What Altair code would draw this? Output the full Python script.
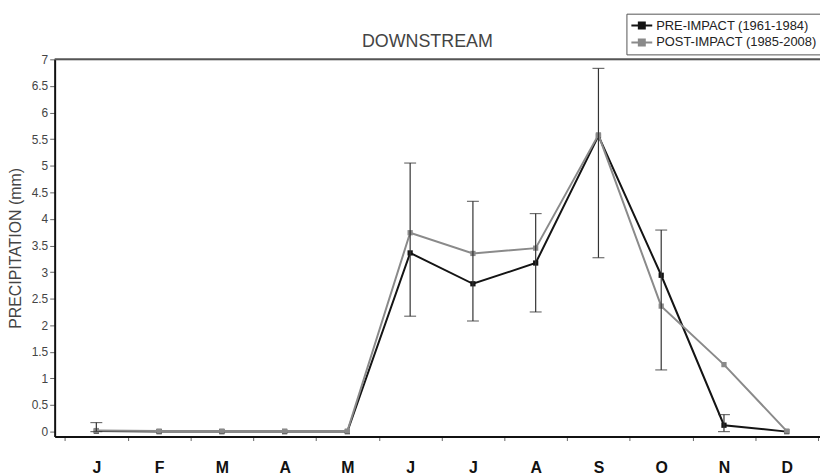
import altair as alt
import pandas as pd

months = ['J', 'F', 'M', 'A', 'M', 'J', 'J', 'A', 'S', 'O', 'N', 'D']
month_idx = list(range(1, 13))
series_names = ['PRE-IMPACT (1961-1984)', 'POST-IMPACT (1985-2008)']
pre = [0.01, 0.0, 0.0, 0.0, 0.0, 3.36, 2.78, 3.17, 5.56, 2.94, 0.12, 0.0]
post = [0.02, 0.01, 0.01, 0.01, 0.01, 3.74, 3.35, 3.45, 5.58, 2.36, 1.26, 0.01]
err_low = [0.0, None, None, None, None, 2.17, 2.08, 2.25, 3.27, 1.16, 0.0, None]
err_high = [0.17, None, None, None, None, 5.05, 4.33, 4.10, 6.83, 3.79, 0.32, None]
y_ticks = [i * 0.5 for i in range(15)]

rows = []
for s, vals in zip(series_names, [pre, post]):
    for m, v in zip(month_idx, vals):
        rows.append({'m': m, 'value': v, 'series': s})
df = pd.DataFrame(rows)

err = pd.DataFrame([{'m': m, 'lo': lo, 'hi': hi}
                    for m, lo, hi in zip(month_idx, err_low, err_high) if lo is not None])

FONT = 'Liberation Sans'
W, H = 771, 380
x_dom = [0.336, 12.53]
y_dom = [-0.093, 7]
half_step = W / (x_dom[1] - x_dom[0]) / 2

label_expr = "[" + ",".join("'%s'" % m for m in months + ['']) + "][floor(datum.value)]"
y_label_expr = "format(datum.value, '.1~f')"

xscale = alt.Scale(domain=x_dom, nice=False, zero=False)
yscale = alt.Scale(domain=y_dom, nice=False, zero=False)

x_axis = alt.Axis(values=[i + 0.5 for i in range(13)], labelExpr=label_expr,
                  labelOffset=half_step, title=None, grid=False,
                  domainColor='#111', domainWidth=2, tickColor='#666', tickSize=4,
                  labelFont=FONT, labelFontWeight='bold', labelFontSize=16,
                  labelColor='#111', labelPadding=19, labelOverlap=False,
                  labelFlush=False, labelBound=False)
y_axis = alt.Axis(values=y_ticks, labelExpr=y_label_expr, title='PRECIPITATION (mm)',
                  titleFont=FONT, titleFontSize=16, titleColor='#444',
                  titleFontWeight='normal', titlePadding=8,
                  labelFont=FONT, labelFontSize=12, labelColor='#444', labelPadding=2,
                  labelOverlap=False, labelFlush=False, labelBound=False,
                  tickSize=5, tickColor='#666', domainColor='#111', domainWidth=2,
                  grid=False)

sym_path = ("M-1,0L2,0M0.07,-0.43L0.93,-0.43L0.93,0.43L0.07,0.43Z")
color = alt.Color('series:N',
                  scale=alt.Scale(domain=series_names, range=['#141414', '#8a8a8a']),
                  legend=alt.Legend(orient='none', legendX=576, legendY=-46, title=None,
                                    strokeColor='#555', fillColor='white', padding=4,
                                    rowPadding=1, labelFontSize=13, labelFont=FONT,
                                    labelColor='#222', labelLimit=300, symbolType=sym_path,
                                    symbolSize=196, symbolStrokeWidth=2, labelOffset=10))

X = alt.X('m:Q', scale=xscale, axis=x_axis)

def Yf(field):
    return alt.Y(field, scale=yscale, axis=y_axis)

def series_layers(name):
    base = alt.Chart(df).transform_filter(alt.datum.series == name)
    line = base.mark_line(strokeWidth=2).encode(x=X, y=Yf('value:Q'), color=color)
    pts = base.mark_square(size=28, opacity=1).encode(x=X, y=Yf('value:Q'), color=color)
    return [line, pts]

ebase = alt.Chart(err)
erule = ebase.mark_rule(color='#333', strokeWidth=1.2).encode(
    x=X, y=Yf('lo:Q'), y2='hi:Q')
ecap_lo = ebase.mark_tick(color='#333', size=12, thickness=1.2, orient='horizontal').encode(
    x=X, y=Yf('lo:Q'))
ecap_hi = ebase.mark_tick(color='#333', size=12, thickness=1.2, orient='horizontal').encode(
    x=X, y=Yf('hi:Q'))

top_line = alt.Chart(pd.DataFrame({'v': [y_dom[1]]})).mark_rule(
    color='#555', strokeWidth=2).encode(y=Yf('v:Q'))

chart = alt.layer(*series_layers(series_names[0]), *series_layers(series_names[1]),
                  erule, ecap_lo, ecap_hi, top_line).properties(
    width=W, height=H,
    title=alt.TitleParams('DOWNSTREAM', fontSize=18, font=FONT, fontWeight='normal',
                          color='#444', offset=10, dx=-10, dy=48, anchor='middle'),
    padding={'left': 47, 'top': 50, 'right': 0, 'bottom': 37},
    autosize='none',
).configure_view(stroke=None).configure(background='white')

chart.save('out.html', embed_options={'renderer': 'svg', 'actions': False})
